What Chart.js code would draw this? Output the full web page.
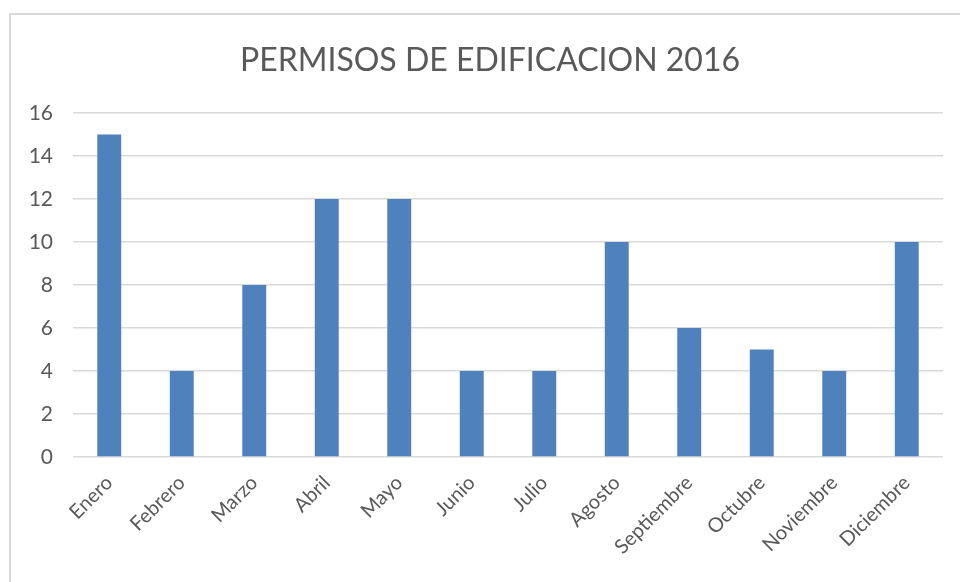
<!DOCTYPE html>
<html>
<head>
<meta charset="utf-8">
<script src="https://cdn.jsdelivr.net/npm/chart.js@4"></script>
<style>
  body { margin: 0; background: #fff; overflow: hidden; }
  #marco { position: absolute; left: 9px; top: 13px; width: 1000px; height: 700px; border: 2px solid #d9d9d9; }
  #grafica { position: absolute; left: 0; top: 0; }
</style>
</head>
<body>
<div id="marco"></div>
<canvas id="grafica" width="960" height="582"></canvas>
<script>
const meses = ['Enero', 'Febrero', 'Marzo', 'Abril', 'Mayo', 'Junio', 'Julio', 'Agosto', 'Septiembre', 'Octubre', 'Noviembre', 'Diciembre'];
const permisos = [15, 4, 8, 12, 12, 4, 4, 10, 6, 5, 4, 10];
const marcasY = [0, 2, 4, 6, 8, 10, 12, 14, 16];
const titulo = 'PERMISOS DE EDIFICACION 2016';

const gris = '#595959';
const fuente = 'Lato, "Open Sans", sans-serif';

// titulo dibujado a mano para centrarlo sobre el marco
const pluginTitulo = {
  id: 'tituloMarco',
  afterDraw(chart) {
    const c = chart.ctx;
    c.save();
    c.fillStyle = gris;
    c.font = '32px ' + fuente;
    c.textAlign = 'center';
    c.textBaseline = 'middle';
    c.fillText(titulo, 490, 61);
    c.restore();
  }
};

const ctx = document.getElementById('grafica').getContext('2d');
new Chart(ctx, {
  type: 'bar',
  data: {
    labels: meses,
    datasets: [{
      label: 'Permisos',
      data: permisos,
      backgroundColor: '#4f81bd',
      barPercentage: 0.66,
      categoryPercentage: 0.5
    }]
  },
  options: {
    responsive: false,
    animation: false,
    layout: { padding: { top: 113, right: 17, bottom: 0, left: 0 } },
    plugins: {
      legend: { display: false },
      tooltip: { enabled: false },
      title: { display: false }
    },
    scales: {
      x: {
        grid: { display: false },
        border: { display: false },
        ticks: {
          color: gris,
          font: { family: fuente, size: 20 },
          minRotation: 45,
          maxRotation: 45,
          padding: 6
        },
        afterFit: s => { s.height = 125; }
      },
      y: {
        min: 0,
        max: 16,
        afterBuildTicks: s => { s.ticks = marcasY.map(v => ({ value: v })); },
        grid: { color: '#d9d9d9', lineWidth: 1.5, drawTicks: false },
        border: { display: false },
        ticks: {
          color: gris,
          font: { family: fuente, size: 21 },
          padding: 20
        },
        afterFit: s => { s.width = 73; }
      }
    }
  },
  plugins: [pluginTitulo]
});
</script>
</body>
</html>
